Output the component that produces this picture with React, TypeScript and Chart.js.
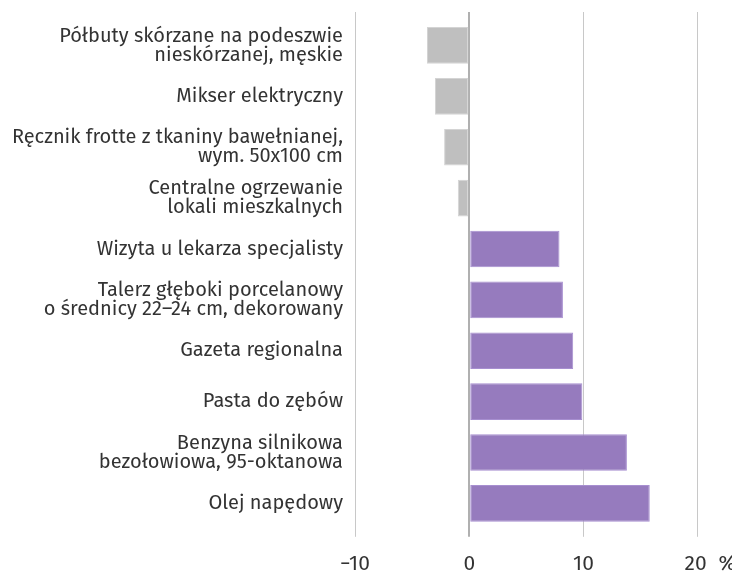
import React, { useEffect, useRef } from "react";
import { Chart, registerables } from "chart.js";

Chart.register(...registerables);

const categories: string[][] = [
  ["Półbuty skórzane na podeszwie", "nieskórzanej, męskie"],
  ["Mikser elektryczny"],
  ["Ręcznik frotte z tkaniny bawełnianej,", "wym. 50x100 cm"],
  ["Centralne ogrzewanie", "lokali mieszkalnych"],
  ["Wizyta u lekarza specjalisty"],
  ["Talerz głęboki porcelanowy", "o średnicy 22–24 cm, dekorowany"],
  ["Gazeta regionalna"],
  ["Pasta do zębów"],
  ["Benzyna silnikowa", "bezołowiowa, 95-oktanowa"],
  ["Olej napędowy"],
];

const values: number[] = [-3.7, -3.0, -2.2, -1.0, 7.9, 8.2, 9.1, 9.9, 13.8, 15.8];

const xMin = -10;
const xMax = 23.7;
const xStep = 10;
const tickLabels: Record<number, string> = {
  [-10]: "\u221210",
  0: "0",
  10: "10",
  20: "\u2007\u2007\u200A20\u2002\u200A%",
};

const POS_COLOR = "#967bbe";
const POS_BORDER = "#a78fd0";
const NEG_COLOR = "#bfbfbf";
const NEG_BORDER = "#d4d4d4";
const FONT = "'Fira Sans', 'Open Sans', 'Noto Sans', sans-serif";

export default function App() {
  const ref = useRef<HTMLCanvasElement | null>(null);

  useEffect(() => {
    if (!ref.current) return;
    const gridColor = (ctx: any) =>
      ctx.tick && ctx.tick.value === 0 ? "#b0b0b0" : "#c8c8c8";
    const gridWidth = (ctx: any) => (ctx.tick && ctx.tick.value === 0 ? 2 : 1);
    const noPad = (scale: any) => {
      scale.paddingTop = 0;
      scale.paddingBottom = 0;
      scale.paddingLeft = 0;
      scale.paddingRight = 0;
    };

    const chart = new Chart(ref.current, {
      type: "bar",
      data: {
        labels: categories,
        datasets: [
          {
            data: values,
            backgroundColor: values.map((v) => (v < 0 ? NEG_COLOR : POS_COLOR)),
            borderColor: values.map((v) => (v < 0 ? NEG_BORDER : POS_BORDER)),
            borderWidth: 1,
            borderSkipped: false,
            categoryPercentage: 1,
            barPercentage: 0.72,
          },
        ],
      },
      options: {
        indexAxis: "y",
        animation: false,
        responsive: true,
        maintainAspectRatio: false,
        layout: { padding: { top: 4, left: 0, right: 0, bottom: -16 } },
        plugins: {
          legend: { display: false },
          tooltip: { enabled: false },
        },
        scales: {
          x: {
            type: "linear",
            position: "bottom",
            min: xMin,
            max: xMax,
            border: { display: false },
            grid: {
              color: gridColor,
              lineWidth: gridWidth,
              drawTicks: true,
              tickLength: 8,
            },
            ticks: {
              stepSize: xStep,
              includeBounds: false,
              padding: 15,
              color: "#333333",
              font: { family: FONT, size: 21, lineHeight: 1.2 },
              maxRotation: 0,
              callback: (v: any) => tickLabels[Number(v)] ?? "",
            },
            afterFit: noPad,
          },
          x2: {
            type: "linear",
            position: "top",
            min: xMin,
            max: xMax,
            border: { display: false },
            grid: {
              color: gridColor,
              lineWidth: gridWidth,
              drawOnChartArea: false,
              drawTicks: true,
              tickLength: 8,
            },
            ticks: { display: false, stepSize: xStep, includeBounds: false },
            afterFit: noPad,
          },
          y: {
            type: "category",
            border: { display: false },
            grid: { display: false, drawTicks: false },
            ticks: {
              padding: 12,
              color: "#333333",
              font: { family: FONT, size: 20, lineHeight: 0.95 },
              autoSkip: false,
            },
            afterFit: (scale: any) => {
              scale.width = 347;
              noPad(scale);
            },
          },
        },
      },
    } as any);
    return () => chart.destroy();
  }, []);

  return (
    <div style={{ width: 732, height: 568, position: "relative" }}>
      <canvas ref={ref} />
    </div>
  );
}
